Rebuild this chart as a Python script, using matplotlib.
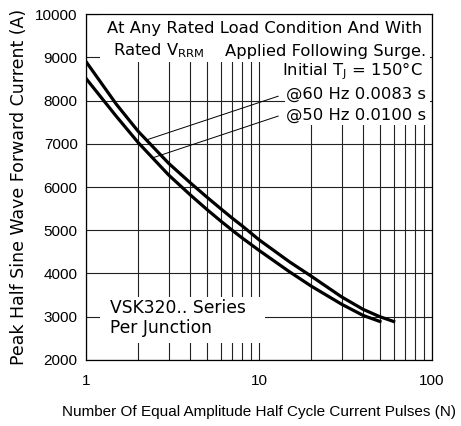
import numpy as np
import matplotlib.pyplot as plt
from matplotlib.patches import Rectangle
from matplotlib.ticker import FixedLocator, NullFormatter

plt.rcParams["font.family"] = ["Liberation Sans", "DejaVu Sans"]
plt.rcParams["mathtext.fontset"] = "custom"
plt.rcParams["mathtext.rm"] = "DejaVu Sans"

# -----------------------------------------------------------
# data
# -----------------------------------------------------------
n_60hz = [1, 1.5, 2, 3, 4, 5, 6, 7, 8, 10, 15, 20, 30, 40, 50, 60]
i_60hz = [8900, 7910, 7290, 6550, 6100, 5765, 5500, 5280, 5100, 4780, 4270, 3940, 3460, 3170, 3000, 2890]

n_50hz = [1, 1.5, 2, 3, 4, 5, 6, 7, 8, 10, 15, 20, 30, 40, 50]
i_50hz = [8510, 7630, 7030, 6280, 5820, 5480, 5215, 5000, 4820, 4535, 4040, 3710, 3290, 3030, 2890]

# leader lines (label end -> curve)
lead_60_n = [12.9, 2.28]
lead_60_i = [8100, 7100]
lead_50_n = [12.9, 2.45]
lead_50_i = [7640, 6680]

# -----------------------------------------------------------
fig = plt.figure(figsize=(4.61, 4.26), dpi=100)
ax = fig.add_axes([0.1866, 0.155, 0.7505, 0.812])

ax.set_xscale("log")
ax.set_xlim(1, 100)
ax.set_ylim(2000, 10000)

ax.xaxis.set_major_locator(FixedLocator([1, 10, 100]))
ax.xaxis.set_minor_locator(FixedLocator([2, 3, 4, 5, 6, 7, 8, 9,
                                         20, 30, 40, 50, 60, 70, 80, 90]))
ax.xaxis.set_minor_formatter(NullFormatter())
ax.set_xticklabels(["1", "10", "100"])
ax.set_yticks(np.arange(2000, 10001, 1000))

ax.grid(True, which="both", axis="x", color="#222222", linewidth=0.8)
ax.grid(True, which="major", axis="y", color="#222222", linewidth=0.8)
ax.set_axisbelow(True)
ax.tick_params(which="both", length=0, labelsize=11)
ax.tick_params(axis="x", pad=10)
ax.tick_params(axis="y", pad=6)
for sp in ax.spines.values():
    sp.set_linewidth(0.9)

# white areas behind the notes (they hide the grid)
for (x0, y0, w, h) in [(0.04, 0.861, 0.954, 0.137),
                       (0.575, 0.679, 0.419, 0.182),
                       (0.04, 0.049, 0.477, 0.133)]:
    ax.add_patch(Rectangle((x0, y0), w, h, transform=ax.transAxes,
                           facecolor="white", edgecolor="none", zorder=1))

ax.plot(n_60hz, i_60hz, color="black", linewidth=2.3, zorder=3)
ax.plot(n_50hz, i_50hz, color="black", linewidth=2.3, zorder=3)
ax.plot(lead_60_n, lead_60_i, color="black", linewidth=0.7, zorder=3)
ax.plot(lead_50_n, lead_50_i, color="black", linewidth=0.7, zorder=3)

note = dict(transform=ax.transAxes, fontsize=11.8, family="DejaVu Sans", zorder=4)
ax.text(0.516, 0.957, "At Any Rated Load Condition And With", ha="center", va="center", **note)
ax.text(0.078, 0.893, r"Rated V$_{\mathregular{RRM}}$", ha="left", va="center", **note)
ax.text(0.982, 0.893, "Applied Following Surge.", ha="right", va="center", **note)
ax.text(0.972, 0.835, r"Initial T$_{\mathregular{J}}$ = 150°C", ha="right", va="center", **note)
ax.text(0.982, 0.769, "@60 Hz 0.0083 s", ha="right", va="center", **note)
ax.text(0.982, 0.708, "@50 Hz 0.0100 s", ha="right", va="center", **note)

ax.text(0.069, 0.121, "VSK320.. Series\nPer Junction", ha="left", va="center",
        linespacing=1.15, transform=ax.transAxes, fontsize=12.3,
        family="DejaVu Sans", zorder=4)

ax.set_ylabel("Peak Half Sine Wave Forward Current (A)", fontsize=12.5,
              family="DejaVu Sans", labelpad=5)
ax.set_xlabel("Number Of Equal Amplitude Half Cycle Current Pulses (N)",
              fontsize=11, labelpad=12)

fig.savefig("out.png", dpi=100)
